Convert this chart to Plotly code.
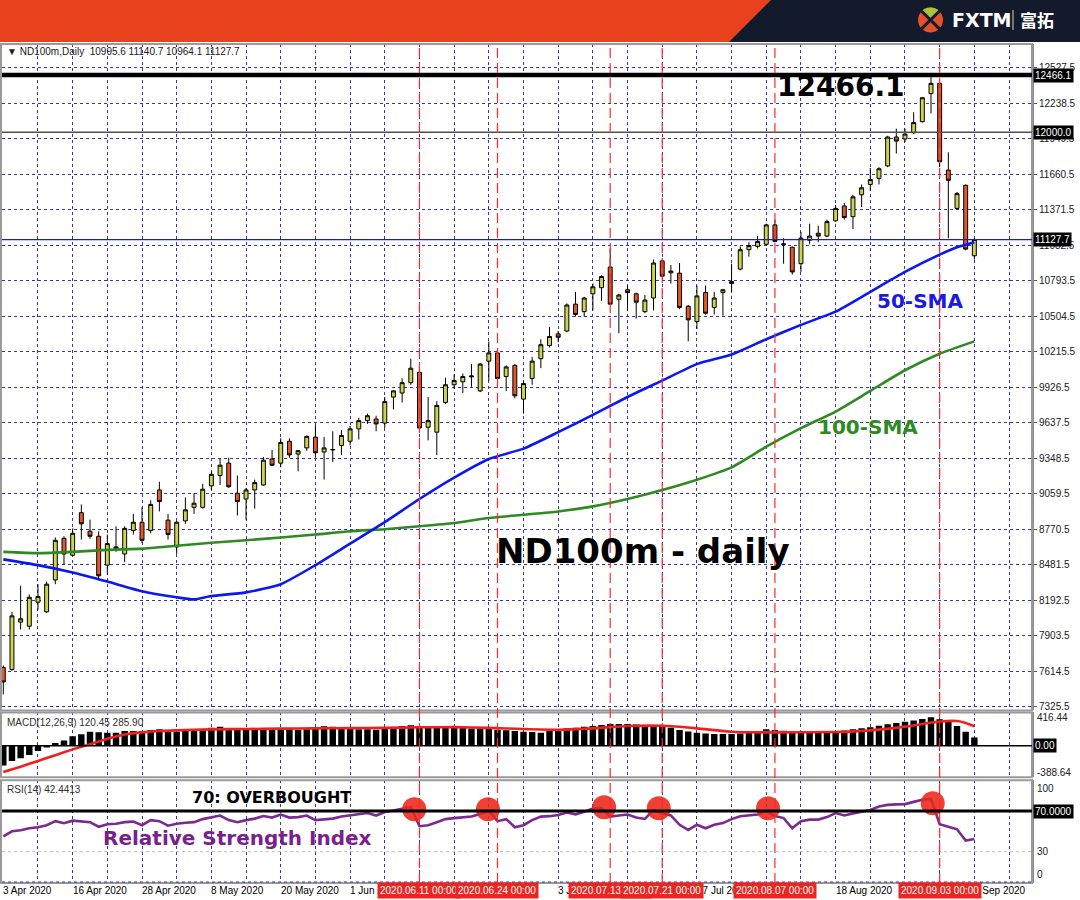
import math
import plotly.graph_objects as go

# ---------------- data ----------------
bar_index = list(range(113))

opens = [7645, 7628, 8014, 7981, 8176, 8098, 8357, 8696, 8559, 8905,
         8754, 8713, 8478, 8612, 8569, 8760, 8827, 8760, 9090, 8844,
         8626, 8838, 8948, 8948, 9123, 9207, 9308, 9063, 9016, 9090,
         9130, 9342, 9308, 9486, 9382, 9432, 9520, 9399, 9415, 9452,
         9486, 9587, 9654, 9667, 9634, 9846, 9879, 9963, 10047, 9600,
         9560, 9802, 9946, 9970, 10010, 9896, 10138, 10205, 10013, 10104,
         9829, 9997, 10158, 10265, 10360, 10383, 10602, 10541, 10686, 10736,
         10904, 10642, 10719, 10686, 10541, 10652, 10954, 10857, 10854, 10585,
         10460, 10696, 10575, 10696, 10770, 10887, 11045, 11072, 11089, 11247,
         11085, 11065, 10931, 11122, 11179, 11156, 11280, 11401, 11314, 11492,
         11576, 11626, 11727, 11962, 11946, 11996, 12087, 12315, 12399, 11693,
         11381, 11569, 10995.6]
highs = [7662, 8098, 8310, 8239, 8323, 8343, 8703, 8713, 8777, 8972,
         8848, 8754, 8727, 8794, 8794, 8895, 8948, 9005, 9157, 8895,
         8838, 9029, 9063, 9140, 9241, 9342, 9352, 9207, 9106, 9174,
         9358, 9415, 9510, 9510, 9415, 9533, 9620, 9520, 9567, 9577,
         9610, 9678, 9711, 9694, 9846, 9903, 9997, 10158, 10064, 9846,
         9812, 10003, 10030, 10037, 10114, 10124, 10299, 10215, 10104, 10114,
         9980, 10171, 10316, 10417, 10383, 10608, 10702, 10662, 10770, 10837,
         11055, 10686, 10753, 10696, 10676, 10964, 10964, 10921, 10937, 10595,
         10753, 10753, 10702, 10726, 10931, 11072, 11106, 11156, 11257, 11290,
         11139, 11072, 11190, 11257, 11240, 11290, 11408, 11425, 11492, 11576,
         11710, 11717, 11972, 12030, 12030, 12164, 12288, 12466.1, 12410, 11838,
         11515, 11576, 11140.7]
lows = [7426, 7618, 7954, 7954, 8115, 8088, 8323, 8478, 8552, 8686,
        8693, 8367, 8401, 8586, 8502, 8727, 8659, 8737, 8915, 8686,
        8569, 8814, 8895, 8938, 9090, 9130, 9106, 8881, 8848, 8938,
        9123, 9284, 9274, 9352, 9241, 9409, 9352, 9174, 9318, 9375,
        9452, 9500, 9627, 9567, 9594, 9745, 9802, 9946, 9584, 9493,
        9375, 9789, 9913, 9879, 9929, 9886, 9980, 9980, 9896, 9835,
        9711, 9946, 10081, 10249, 10292, 10373, 10501, 10501, 10551, 10628,
        10595, 10366, 10551, 10484, 10528, 10551, 10820, 10769, 10561, 10299,
        10400, 10517, 10517, 10507, 10702, 10877, 10988, 11055, 11079, 11106,
        10931, 10843, 10864, 11089, 11106, 11146, 11274, 11290, 11213, 11391,
        11526, 11576, 11717, 11828, 11919, 11986, 12080, 12154, 11717, 11139,
        11368, 11040, 10964.1]
closes = [7527, 8065, 8041, 8216, 8223, 8323, 8680, 8569, 8737, 8814,
          8713, 8391, 8653, 8626, 8777, 8827, 8680, 8972, 8995, 8727,
          8827, 8928, 8982, 9096, 9217, 9291, 9116, 8995, 9090, 9150,
          9332, 9291, 9476, 9375, 9409, 9526, 9392, 9432, 9419, 9533,
          9587, 9654, 9694, 9627, 9809, 9896, 9963, 10081, 9594, 9654,
          9778, 9946, 9980, 10013, 10017, 10114, 10205, 9997, 10091, 9856,
          9956, 10138, 10272, 10339, 10333, 10595, 10518, 10652, 10743, 10827,
          10602, 10676, 10696, 10618, 10635, 10937, 10830, 10871, 10575, 10474,
          10669, 10528, 10652, 10719, 10786, 11045, 11079, 11112, 11247, 11112,
          11092, 10864, 11139, 11156, 11156, 11274, 11381, 11307, 11475, 11549,
          11616, 11704, 11962, 11929, 11986, 12080, 12282, 12399, 11761, 11610,
          11502, 11050, 11127.7]

sma50_bars = [0, 4, 8, 12, 16, 20, 22, 24, 28, 32, 36, 40, 44, 48, 52, 56, 60,
              64, 68, 72, 76, 80, 84, 88, 92, 96, 100, 104, 108, 110, 112]
sma50_vals = [8525, 8478, 8418, 8344, 8266, 8216, 8199, 8226, 8256, 8323, 8478,
              8653, 8828, 9016, 9190, 9342, 9426, 9560, 9701, 9846, 9980, 10114,
              10192, 10316, 10433, 10541, 10702, 10864, 11005, 11065, 11106]

sma100_bars = [0, 4, 8, 12, 16, 20, 24, 28, 32, 36, 40, 44, 48, 52, 56, 60, 64,
               68, 72, 76, 80, 84, 88, 92, 96, 100, 104, 108, 112]
sma100_vals = [8586, 8576, 8586, 8602, 8612, 8636, 8660, 8680, 8703, 8727, 8754,
               8770, 8794, 8821, 8861, 8888, 8915, 8956, 9016, 9089, 9173, 9274,
               9442, 9593, 9728, 9896, 10064, 10198, 10299]

macd_hist = [-294, -225, -186, -137, -78, -29, 39, 74, 137, 167,
             206, 196, 191, 191, 216, 216, 216, 230, 240, 216,
             206, 216, 230, 245, 265, 279, 245, 230, 230, 240,
             245, 240, 245, 240, 235, 240, 260, 285, 280, 255,
             245, 240, 240, 235, 245, 260, 290, 300, 280, 262,
             260, 262, 262, 258, 252, 250, 252, 235, 228, 215,
             205, 200, 191, 215, 240, 255, 265, 280, 289, 305,
             319, 320, 319, 310, 299, 295, 289, 265, 230, 210,
             191, 180, 172, 170, 172, 180, 191, 215, 240, 232,
             221, 200, 191, 190, 191, 198, 206, 222, 240, 255,
             270, 292, 314, 335, 353, 372, 392, 416.44, 387, 353,
             289, 206, 120.45]
signal_bars = [0, 2, 4, 6, 8, 10, 12, 14, 16, 18, 20, 24, 28, 32, 36, 40, 44, 48,
               52, 56, 60, 64, 68, 72, 76, 80, 84, 88, 92, 96, 100, 104, 106, 108,
               110, 111, 112]
signal_vals = [-388.64, -310, -225, -140, -55, 20, 100, 165, 195, 215, 225, 240,
               245, 250, 255, 258, 262, 270, 272, 262, 245, 235, 255, 289, 292,
               255, 205, 195, 198, 200, 225, 280, 320, 355, 362, 335, 285.9]

rsi_vals = [45, 50, 51, 53, 54, 56, 60, 58, 60.5, 60,
            59, 54.5, 57, 57.5, 59, 59.5, 56, 61, 60, 55.5,
            57.5, 58.5, 59, 62, 64, 65.5, 61, 59, 61, 62.5,
            65, 63.5, 66.5, 63.5, 64, 65.5, 61, 62, 62.5, 64.5,
            65.5, 67, 68, 65.5, 69, 70.5, 72, 74, 55, 56,
            59, 62, 63, 64, 64.5, 67, 70, 60, 62, 54,
            56, 61, 64.5, 64.9, 66, 68.5, 66.6, 69.3, 72.5, 73,
            64.5, 65.6, 66.6, 63.5, 62.2, 71, 67.6, 65.6, 56.4, 51.4,
            56.4, 53, 56.4, 58.1, 62, 64.9, 65.5, 66.6, 70, 65,
            63, 53, 60, 61.5, 61.5, 64, 68, 65.6, 67.6, 69,
            71, 74.5, 76, 76.5, 76.8, 79, 81, 82, 57, 54.5,
            52, 40.8, 42.4413]

price_ticks = [7325.5, 7614.5, 7903.5, 8192.5, 8481.5, 8770.5, 9059.5, 9348.5,
               9637.5, 9926.5, 10215.5, 10504.5, 10793.5, 11082.5, 11371.5,
               11660.5, 11949.5, 12238.5, 12527.5]
marked_prices = [12466.1, 12000.0, 11127.7]

# date labels that the reference shows (the rest are hidden under the red tags)
date_label_bars = [0, 8, 16, 24, 32, 40, 64, 80, 96, 112]
date_labels = ["3 Apr 2020", "16 Apr 2020", "28 Apr 2020", "8 May 2020",
               "20 May 2020", "1 Jun 2020", "3 Jul 2020", "27 Jul 2020",
               "18 Aug 2020", "9 Sep 2020"]

event_bars = [48, 57, 70, 76, 89, 108]
event_labels = ["2020.06.11 00:00", "2020.06.24 00:00", "2020.07.13 00:00",
                "2020.07.21 00:00", "2020.08.07 00:00", "2020.09.03 00:00"]

overbought_bars = [47.4, 55.9, 69.3, 75.6, 88.2, 107.2]
overbought_levels = [71.8, 71.8, 73.7, 72.7, 72.7, 77.6]

macd_labels = [416.44, 0.0, -388.64]
rsi_labels = [100, 70, 30, 0]

# ---------------- geometry helpers ----------------
W, H = 1080, 900
PL, PR = 2, 1032


def fx(px):
    return px / W


def fy(py):
    return 1 - py / H


XR = [-0.15, 118.65]
GRID = "#3535b5"
FONT = "Liberation Sans"

fig = go.Figure()

# main candles
fig.add_trace(go.Candlestick(
    x=bar_index, open=opens, high=highs, low=lows, close=closes,
    increasing=dict(fillcolor="#cdd34e", line=dict(color="#000000", width=1)),
    decreasing=dict(fillcolor="#e2572b", line=dict(color="#000000", width=1)),
    whiskerwidth=0, showlegend=False, hoverinfo="skip", xaxis="x", yaxis="y"))

fig.add_trace(go.Scatter(x=sma100_bars, y=sma100_vals, mode="lines",
                         line=dict(color="#2f8a22", width=2.6, shape="spline", smoothing=0.6),
                         showlegend=False, hoverinfo="skip", xaxis="x", yaxis="y"))
fig.add_trace(go.Scatter(x=sma50_bars, y=sma50_vals, mode="lines",
                         line=dict(color="#0c18f0", width=2.6, shape="spline", smoothing=0.6),
                         showlegend=False, hoverinfo="skip", xaxis="x", yaxis="y"))

# MACD
fig.add_trace(go.Bar(x=bar_index, y=macd_hist, marker=dict(color="#000000", line=dict(width=0)),
                     width=0.74, showlegend=False, hoverinfo="skip", xaxis="x2", yaxis="y2"))
fig.add_trace(go.Scatter(x=signal_bars, y=signal_vals, mode="lines",
                         line=dict(color="#f0201c", width=2.6, shape="spline", smoothing=0.5),
                         showlegend=False, hoverinfo="skip", xaxis="x2", yaxis="y2"))

# RSI
fig.add_trace(go.Scatter(x=bar_index, y=rsi_vals, mode="lines",
                         line=dict(color="#7b2a8e", width=2.6),
                         showlegend=False, hoverinfo="skip", xaxis="x3", yaxis="y3"))
fig.add_trace(go.Scatter(x=overbought_bars, y=overbought_levels, mode="markers",
                         marker=dict(size=24, color="rgba(236,38,24,0.88)", line=dict(width=0)),
                         showlegend=False, hoverinfo="skip", xaxis="x3", yaxis="y3"))

shapes = []
# header
shapes.append(dict(type="rect", xref="paper", yref="paper", x0=0, x1=1, y0=fy(42), y1=1,
                   fillcolor="#e8411e", line=dict(width=0), layer="below"))
shapes.append(dict(type="path", xref="paper", yref="paper",
                   path=f"M {fx(771)},{fy(0)} L 1,{fy(0)} L 1,{fy(42)} L {fx(729)},{fy(42)} Z",
                   fillcolor="#131a2c", line=dict(width=0), layer="below"))
# logo mark
cx, cy, r = 930.5, 20, 12.5
shapes.append(dict(type="circle", xref="paper", yref="paper",
                   x0=fx(cx - r), x1=fx(cx + r), y0=fy(cy + r), y1=fy(cy - r),
                   fillcolor="#e2512a", line=dict(width=0)))
pts = [(cx, cy)]
for k in range(0, 21):
    a = math.radians(-135 + 90 * k / 20)
    pts.append((cx + r * math.cos(a), cy + r * math.sin(a)))
path = "M " + " L ".join(f"{fx(px)},{fy(py)}" for px, py in pts) + " Z"
shapes.append(dict(type="path", xref="paper", yref="paper", path=path,
                   fillcolor="#a9c23c", line=dict(width=0)))
for (ax0, ay0, ax1, ay1) in [(cx - 9, cy - 9, cx + 9, cy + 9), (cx + 9, cy - 9, cx - 9, cy + 9)]:
    shapes.append(dict(type="line", xref="paper", yref="paper",
                       x0=fx(ax0), y0=fy(ay0), x1=fx(ax1), y1=fy(ay1),
                       line=dict(color="#131a2c", width=3)))
shapes.append(dict(type="line", xref="paper", yref="paper", x0=fx(1013), x1=fx(1013),
                   y0=fy(10), y1=fy(30), line=dict(color="#cfd3dc", width=1)))

# panel frames
for top, bot in [(44, 712), (714, 779), (782, 885)]:
    shapes.append(dict(type="rect", xref="paper", yref="paper", x0=fx(PL - 1), x1=fx(PR),
                       y0=fy(bot), y1=fy(top), line=dict(color="#9a9a9a", width=2),
                       fillcolor="rgba(0,0,0,0)", layer="above"))

# horizontal marked levels
level_styles = [("#000000", 4.5), ("#4f4f4f", 1.5), ("#1c1cc8", 1.2)]
for val, (col, wid) in zip(marked_prices, level_styles):
    shapes.append(dict(type="line", xref="paper", yref="y", x0=fx(PL), x1=fx(PR), y0=val, y1=val,
                       line=dict(color=col, width=wid), layer="above"))

# RSI levels
shapes.append(dict(type="line", xref="paper", yref="y3", x0=fx(PL), x1=fx(PR), y0=30, y1=30,
                   line=dict(color="#c4c4c4", width=1, dash="3px,3px")))
shapes.append(dict(type="line", xref="paper", yref="y3", x0=fx(PL), x1=fx(PR), y0=0, y1=0,
                   line=dict(color=GRID, width=1, dash="3px,3px")))
shapes.append(dict(type="line", xref="paper", yref="y3", x0=fx(PL), x1=fx(PR), y0=70, y1=70,
                   line=dict(color="#000000", width=3), layer="above"))
# MACD zero line
shapes.append(dict(type="line", xref="paper", yref="y2", x0=fx(PL), x1=fx(PR), y0=0, y1=0,
                   line=dict(color="#000000", width=1.5), layer="above"))

# red event lines
for b in event_bars:
    shapes.append(dict(type="line", xref="x", yref="paper", x0=b, x1=b, y0=fy(885), y1=fy(44),
                       line=dict(color="#ff2a2a", width=1.2, dash="10px,5px"), layer="above"))

ann = []
ann.append(dict(xref="paper", yref="paper", x=fx(5), y=fy(52), xanchor="left", yanchor="middle",
                text="▼ ND100m,Daily  10995.6 11140.7 10964.1 11127.7", showarrow=False,
                font=dict(family=FONT, size=10, color="#202020")))
ann.append(dict(xref="paper", yref="paper", x=fx(5), y=fy(724), xanchor="left", yanchor="middle",
                text="MACD(12,26,9) 120.45 285.90", showarrow=False,
                font=dict(family=FONT, size=10, color="#303030")))
ann.append(dict(xref="paper", yref="paper", x=fx(5), y=fy(791), xanchor="left", yanchor="middle",
                text="RSI(14) 42.4413", showarrow=False,
                font=dict(family=FONT, size=10, color="#303030")))

# big chart texts
ann.append(dict(xref="x", yref="y", x=96.6, y=12373, text="<b>12466.1</b>", showarrow=False,
                font=dict(family="DejaVu Sans", size=28, color="#000000")))
ann.append(dict(xref="x", yref="y", x=73.8, y=8596, text="<b>ND100m - daily</b>", showarrow=False,
                font=dict(family="DejaVu Sans", size=34, color="#000000")))
ann.append(dict(xref="x", yref="y", x=105.7, y=10625, text="<b>50-SMA</b>", showarrow=False,
                font=dict(family="DejaVu Sans", size=20, color="#1a1ae6")))
ann.append(dict(xref="x", yref="y", x=99.7, y=9603, text="<b>100-SMA</b>", showarrow=False,
                font=dict(family="DejaVu Sans", size=20, color="#2f8a22")))
ann.append(dict(xref="x3", yref="y3", x=30.9, y=83.6, text="<b>70: OVERBOUGHT</b>", showarrow=False,
                font=dict(family="DejaVu Sans", size=16, color="#000000")))
ann.append(dict(xref="x3", yref="y3", x=27, y=43.2, text="<b>Relative Strength Index</b>", showarrow=False,
                font=dict(family="DejaVu Sans", size=20, color="#7a1f8c")))

# boxed price labels on the right axis
for val in marked_prices:
    ann.append(dict(xref="paper", yref="y", x=fx(PR + 1), y=val, xanchor="left", yanchor="middle",
                    text=f"{val:.1f}", showarrow=False, bgcolor="#000000", borderpad=1,
                    font=dict(family=FONT, size=10, color="#ffffff")))

# MACD axis labels
for v in macd_labels:
    if v == 0:
        ann.append(dict(xref="paper", yref="y2", x=fx(PR + 1), y=v, xanchor="left", yanchor="middle",
                        text="0.00", showarrow=False, bgcolor="#000000", borderpad=1,
                        font=dict(family=FONT, size=10, color="#ffffff")))
    else:
        ann.append(dict(xref="paper", yref="y2", x=fx(PR + 3), y=v, xanchor="left", yanchor="middle",
                        text=f"{v:.2f}", showarrow=False,
                        font=dict(family=FONT, size=10, color="#202020")))
# RSI axis labels
for v in rsi_labels:
    if v == 70:
        ann.append(dict(xref="paper", yref="y3", x=fx(PR + 1), y=v, xanchor="left", yanchor="middle",
                        text="70.0000", showarrow=False, bgcolor="#000000", borderpad=1,
                        font=dict(family=FONT, size=10, color="#ffffff")))
    else:
        ya = "top" if v == 100 else ("bottom" if v == 0 else "middle")
        ann.append(dict(xref="paper", yref="y3", x=fx(PR + 3), y=v, xanchor="left", yanchor=ya,
                        text=str(v), showarrow=False,
                        font=dict(family=FONT, size=10, color="#202020")))

# date labels along the bottom
for b, t in zip(date_label_bars, date_labels):
    ann.append(dict(xref="x3", yref="paper", x=b, y=fy(892), xanchor="left", yanchor="middle",
                    text=t, showarrow=False, xshift=-2,
                    font=dict(family=FONT, size=10, color="#000000")))
# red event labels (drawn after so they overlap)
for b, t in zip(event_bars, event_labels):
    ann.append(dict(xref="x3", yref="paper", x=b, y=fy(892), xanchor="center", yanchor="middle",
                    text=t, showarrow=False, bgcolor="#ee2420", borderpad=2,
                    font=dict(family=FONT, size=10, color="#ffffff")))

# logo text
ann.append(dict(xref="paper", yref="paper", x=fx(950), y=fy(20), xanchor="left", yanchor="middle",
                text="<b>FXTM</b>", showarrow=False,
                font=dict(family="DejaVu Sans", size=19, color="#ffffff")))
ann.append(dict(xref="paper", yref="paper", x=fx(1018), y=fy(20), xanchor="left", yanchor="middle",
                text="<b>富拓</b>", showarrow=False,
                font=dict(family="Noto Sans CJK SC", size=17, color="#ffffff")))

grid_vals = list(range(4, 117, 4))
xcommon = dict(range=XR, domain=[fx(PL), fx(PR)], tickvals=grid_vals, showticklabels=False,
               showgrid=True, gridcolor=GRID, gridwidth=1, griddash="3px,3px", zeroline=False,
               ticks="", showline=False, fixedrange=True)

fig.update_layout(
    width=W, height=H, autosize=False,
    margin=dict(l=0, r=0, t=0, b=0),
    paper_bgcolor="#ffffff", plot_bgcolor="#ffffff",
    boxgap=0.35, bargap=0.2,
    showlegend=False,
    xaxis=dict(**xcommon, anchor="y", rangeslider=dict(visible=False)),
    xaxis2=dict(**xcommon, anchor="y2"),
    xaxis3=dict(**xcommon, anchor="y3"),
    yaxis=dict(domain=[fy(712), fy(44)], range=[7295.5, 12720], side="right", anchor="x",
               tickvals=price_ticks, ticktext=[f"{v:.1f}" for v in price_ticks],
               showgrid=True, gridcolor=GRID, gridwidth=1, griddash="3px,3px", zeroline=False,
               ticks="outside", ticklen=3, tickcolor="#555555",
               tickfont=dict(family=FONT, size=10, color="#202020"),
               showline=True, linecolor="#8a8a8a", linewidth=2, fixedrange=True),
    yaxis2=dict(domain=[fy(779), fy(714)], range=[-466, 489.5], side="right", anchor="x2",
                showticklabels=False, showgrid=False, zeroline=False, ticks="",
                showline=True, linecolor="#8a8a8a", linewidth=2, fixedrange=True),
    yaxis3=dict(domain=[fy(885), fy(782)], range=[-1, 100.3], side="right", anchor="x3",
                showticklabels=False, showgrid=False, zeroline=False, ticks="",
                showline=True, linecolor="#8a8a8a", linewidth=2, fixedrange=True),
    shapes=shapes,
    annotations=ann,
)

fig.write_html(
    "out.html",
    config={"displayModeBar": False},
    post_script="document.body.style.margin='0';document.body.style.padding='0';"
                "document.body.style.overflow='hidden';"
                "document.documentElement.style.overflow='hidden';",
)
